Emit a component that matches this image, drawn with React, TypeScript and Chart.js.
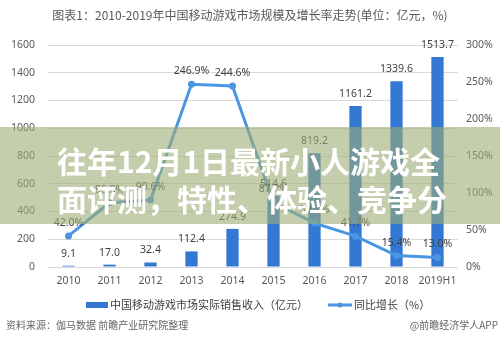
import React, { useEffect, useRef } from "react";
import { Chart, registerables } from "chart.js";

Chart.register(...registerables);

const titleText = "图表1：2010-2019年中国移动游戏市场规模及增长率走势(单位：亿元，%)";
const categories = ["2010", "2011", "2012", "2013", "2014", "2015", "2016", "2017", "2018", "2019H1"];
const revenue = [9.1, 17.0, 32.4, 112.4, 274.9, 514.6, 819.2, 1161.2, 1339.6, 1513.7];
const growth = [42.0, 86.8, 90.6, 246.9, 244.6, 87.2, 59.2, 41.7, 15.4, 13.0];
const revenueLabel = "中国移动游戏市场实际销售收入（亿元）";
const growthLabel = "同比增长（%）";
const sourceText = "资料来源：伽马数据 前瞻产业研究院整理";
const creditText = "@前瞻经济学人APP";
const bannerLines = ["往年12月1日最新小人游戏全", "面评测，特性、体验、竞争分"];

const BAR_COLOR = "rgb(52,120,212)";
const LINE_COLOR = "rgb(74,150,226)";
const TEXT_COLOR = "#595959";
const FONT = "'Noto Sans', 'Noto Sans CJK SC', sans-serif";
const CJK = "'Noto Sans CJK SC', 'Noto Sans', sans-serif";

export default function App() {
  const ref = useRef<HTMLCanvasElement | null>(null);

  useEffect(() => {
    if (!ref.current) return;
    const decor = {
      id: "decor",
      afterDatasetsDraw(chart: any) {
        const ctx = chart.ctx;
        ctx.save();
        ctx.font = `10.5px ${FONT}`;
        ctx.fillStyle = "#404040";
        ctx.textAlign = "center";
        ctx.textBaseline = "middle";
        const bm = chart.getDatasetMeta(0);
        bm.data.forEach((el: any, i: number) => {
          ctx.fillText(revenue[i].toFixed(1), el.x, el.y - 12);
        });
        const lm = chart.getDatasetMeta(1);
        lm.data.forEach((el: any, i: number) => {
          ctx.fillText(growth[i].toFixed(1) + "%", el.x, el.y - 13);
        });
        ctx.restore();
      },
      afterDraw(chart: any) {
        const ctx = chart.ctx;
        ctx.save();
        ctx.textBaseline = "middle";
        ctx.font = `12px ${CJK}`;
        ctx.fillStyle = TEXT_COLOR;
        ctx.textAlign = "center";
        ctx.fillText(titleText, 250, 15);
        ctx.font = `11px ${CJK}`;
        ctx.fillStyle = BAR_COLOR;
        ctx.fillRect(86, 302, 22, 6);
        ctx.fillStyle = "#404040";
        ctx.textAlign = "left";
        ctx.fillText(revenueLabel, 110, 305);
        ctx.strokeStyle = LINE_COLOR;
        ctx.lineWidth = 3;
        ctx.beginPath();
        ctx.moveTo(328, 305);
        ctx.lineTo(352, 305);
        ctx.stroke();
        ctx.fillStyle = LINE_COLOR;
        ctx.beginPath();
        ctx.arc(340, 305, 2.5, 0, Math.PI * 2);
        ctx.fill();
        ctx.fillStyle = "#404040";
        ctx.fillText(growthLabel, 354, 305);
        ctx.font = `10px ${CJK}`;
        ctx.fillStyle = "#666";
        ctx.textAlign = "left";
        ctx.fillText(sourceText, 6, 325);
        ctx.textAlign = "right";
        ctx.fillText(creditText, 498, 325);
        ctx.restore();
      },
    };

    const chart = new Chart(ref.current, {
      type: "bar",
      data: {
        labels: categories,
        datasets: [
          {
            type: "bar",
            label: revenueLabel,
            data: revenue,
            backgroundColor: BAR_COLOR,
            barPercentage: 0.3,
            categoryPercentage: 1,
            yAxisID: "y",
            order: 1,
          },
          {
            type: "line",
            label: growthLabel,
            data: growth,
            borderColor: LINE_COLOR,
            backgroundColor: LINE_COLOR,
            borderWidth: 3,
            pointRadius: 3.5,
            pointBackgroundColor: LINE_COLOR,
            pointBorderWidth: 0,
            tension: 0,
            yAxisID: "y1",
            order: 0,
          } as any,
        ],
      },
      options: {
        responsive: false,
        animation: false,
        devicePixelRatio: 1,
        layout: { padding: { top: 45, left: 0, right: 0, bottom: 58 } },
        plugins: {
          legend: { display: false },
          title: { display: false },
          tooltip: { enabled: false },
        },
        scales: {
          x: {
            grid: { display: false, drawTicks: false, tickLength: 0 },
            border: { display: false },
            ticks: {
              padding: 8,
              color: TEXT_COLOR,
              font: { size: 10.5, family: FONT },
              maxRotation: 0,
              minRotation: 0,
              autoSkip: false,
            },
            afterFit: (s: any) => {
              s.height = 28;
            },
          },
          y: {
            position: "left",
            min: 0,
            max: 1600,
            ticks: {
              stepSize: 200,
              padding: 13,
              color: TEXT_COLOR,
              font: { size: 10.5, family: FONT },
              callback: (v: any) => String(v),
            },
            grid: { color: "#d9d9d9", drawTicks: false, tickLength: 0 },
            border: { display: false },
            afterFit: (s: any) => {
              s.width = 48;
            },
          },
          y1: {
            position: "right",
            min: 0,
            max: 300,
            ticks: {
              stepSize: 50,
              padding: 8,
              color: TEXT_COLOR,
              font: { size: 10.5, family: FONT },
              callback: (v: any) => v + "%",
            },
            grid: { display: false, drawTicks: false, tickLength: 0 },
            border: { display: false },
            afterFit: (s: any) => {
              s.width = 42;
            },
          },
        },
      } as any,
      plugins: [decor],
    });
    return () => chart.destroy();
  }, []);

  return (
    <div style={{ position: "absolute", left: 0, top: 0, width: 500, height: 353, background: "#fff" }}>
      <canvas ref={ref} width={500} height={353} style={{ width: 500, height: 353, display: "block" }} />
      <div
        style={{
          position: "absolute",
          left: 0,
          top: 127,
          width: 500,
          height: 97,
          background: "rgba(158,173,117,0.6)",
        }}
      >
        {bannerLines.map((t, i) => (
          <div
            key={i}
            style={{
              position: "absolute",
              left: 57,
              top: 14 + i * 38,
              fontFamily: CJK,
              fontWeight: 700,
              fontSize: 30,
              lineHeight: "38px",
              color: "#fff",
              whiteSpace: "nowrap",
            }}
          >
            {t}
          </div>
        ))}
      </div>
    </div>
  );
}
